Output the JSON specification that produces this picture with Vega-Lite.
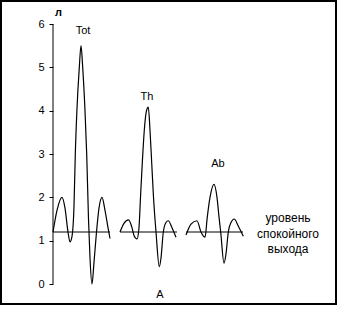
{
  "$schema": "https://vega.github.io/schema/vega-lite/v6.json",
  "width": 335,
  "height": 303,
  "autosize": "none",
  "padding": {"left": 1, "top": 1, "right": 2, "bottom": 5},
  "background": "white",
  "config": {"view": {"stroke": "black", "strokeWidth": 2}, "font": "Liberation Sans"},
  "datasets": {
    "wave": [
      {"s": "Tot", "t": 0, "v": 1.2}, {"s": "Tot", "t": 4, "v": 1.7}, {"s": "Tot", "t": 9, "v": 2.0}, {"s": "Tot", "t": 12, "v": 1.75},
      {"s": "Tot", "t": 15, "v": 1.2}, {"s": "Tot", "t": 17, "v": 0.97}, {"s": "Tot", "t": 19, "v": 1.1}, {"s": "Tot", "t": 21, "v": 1.8},
      {"s": "Tot", "t": 22.3, "v": 3.0}, {"s": "Tot", "t": 23.9, "v": 4.0}, {"s": "Tot", "t": 26.3, "v": 5.0}, {"s": "Tot", "t": 28, "v": 5.5},
      {"s": "Tot", "t": 29.7, "v": 5.0}, {"s": "Tot", "t": 32, "v": 4.0}, {"s": "Tot", "t": 33.7, "v": 3.0}, {"s": "Tot", "t": 35.5, "v": 1.5},
      {"s": "Tot", "t": 37, "v": 0.6}, {"s": "Tot", "t": 39, "v": 0.0}, {"s": "Tot", "t": 41, "v": 0.5}, {"s": "Tot", "t": 43.5, "v": 1.2},
      {"s": "Tot", "t": 46, "v": 1.75}, {"s": "Tot", "t": 49, "v": 2.0}, {"s": "Tot", "t": 52, "v": 1.7}, {"s": "Tot", "t": 55, "v": 1.3},
      {"s": "Tot", "t": 57, "v": 1.05},
      {"s": "Th", "t": 67, "v": 1.2}, {"s": "Th", "t": 71, "v": 1.4}, {"s": "Th", "t": 75.5, "v": 1.48}, {"s": "Th", "t": 79, "v": 1.3},
      {"s": "Th", "t": 81, "v": 1.12}, {"s": "Th", "t": 84, "v": 1.04}, {"s": "Th", "t": 86, "v": 1.3}, {"s": "Th", "t": 87.5, "v": 2.0},
      {"s": "Th", "t": 89.3, "v": 2.8}, {"s": "Th", "t": 91.3, "v": 3.55}, {"s": "Th", "t": 93.5, "v": 4.0}, {"s": "Th", "t": 95.3, "v": 4.08},
      {"s": "Th", "t": 97, "v": 3.55}, {"s": "Th", "t": 98.7, "v": 2.8}, {"s": "Th", "t": 100.5, "v": 2.0}, {"s": "Th", "t": 103, "v": 1.2},
      {"s": "Th", "t": 106.3, "v": 0.4}, {"s": "Th", "t": 108, "v": 0.6}, {"s": "Th", "t": 110.3, "v": 1.2}, {"s": "Th", "t": 113, "v": 1.42},
      {"s": "Th", "t": 115.3, "v": 1.46}, {"s": "Th", "t": 119, "v": 1.3}, {"s": "Th", "t": 123, "v": 1.08},
      {"s": "Ab", "t": 133, "v": 1.13}, {"s": "Ab", "t": 138, "v": 1.38}, {"s": "Ab", "t": 144, "v": 1.46}, {"s": "Ab", "t": 148, "v": 1.2},
      {"s": "Ab", "t": 152, "v": 1.08}, {"s": "Ab", "t": 154.3, "v": 1.55}, {"s": "Ab", "t": 157, "v": 2.0}, {"s": "Ab", "t": 161, "v": 2.3},
      {"s": "Ab", "t": 164, "v": 2.0}, {"s": "Ab", "t": 166, "v": 1.55}, {"s": "Ab", "t": 167.7, "v": 1.2}, {"s": "Ab", "t": 171, "v": 0.48},
      {"s": "Ab", "t": 173, "v": 0.7}, {"s": "Ab", "t": 175.3, "v": 1.2}, {"s": "Ab", "t": 178, "v": 1.42}, {"s": "Ab", "t": 181.3, "v": 1.5},
      {"s": "Ab", "t": 185, "v": 1.35}, {"s": "Ab", "t": 190.3, "v": 1.1}
    ],
    "base": [
      {"t": 0, "t2": 57, "v": 1.2},
      {"t": 67, "t2": 124, "v": 1.2},
      {"t": 133, "t2": 190, "v": 1.2}
    ],
    "axisline": [{"t": 0, "v": 0, "v2": 6}],
    "unit": [{"t": 2, "v": 6.25, "txt": "л"}],
    "labels": [
      {"t": 30, "v": 5.84, "txt": "Tot"},
      {"t": 94, "v": 4.32, "txt": "Th"},
      {"t": 165, "v": 2.77, "txt": "Ab"},
      {"t": 107, "v": -0.254, "txt": "А"}
    ],
    "note": [
      {"t": 235, "v": 1.52, "txt": "уровень"},
      {"t": 235, "v": 1.154, "txt": "спокойного"},
      {"t": 235, "v": 0.81, "txt": "выхода"}
    ]
  },
  "layer": [
    {
      "data": {"name": "axisline"},
      "mark": {"type": "rule", "color": "black", "strokeWidth": 1},
      "encoding": {
        "x": {"field": "t", "type": "quantitative", "scale": {"domain": [-52, 283], "nice": false, "zero": false}, "axis": null},
        "y": {"field": "v", "type": "quantitative", "scale": {"domain": [-0.4615, 6.531], "nice": false, "zero": false},
              "axis": {"orient": "left", "offset": -52, "values": [0, 1, 2, 3, 4, 5, 6], "domain": false, "grid": false, "tickSize": 4, "tickColor": "black", "labelPadding": 5, "labelFontSize": 11, "labelColor": "black", "labelFont": "Liberation Sans", "title": null}},
        "y2": {"field": "v2"}
      }
    },
    {
      "data": {"name": "base"},
      "mark": {"type": "rule", "color": "black", "strokeWidth": 1},
      "encoding": {
        "x": {"field": "t", "type": "quantitative"},
        "x2": {"field": "t2"},
        "y": {"field": "v", "type": "quantitative"}
      }
    },
    {
      "data": {"name": "wave"},
      "mark": {"type": "line", "color": "black", "strokeWidth": 1.2, "interpolate": "monotone"},
      "encoding": {
        "x": {"field": "t", "type": "quantitative"},
        "y": {"field": "v", "type": "quantitative"},
        "detail": {"field": "s"}
      }
    },
    {
      "data": {"name": "unit"},
      "mark": {"type": "text", "fontSize": 11, "fontWeight": "bold", "fill": "black", "baseline": "middle", "align": "left", "font": "Liberation Sans"},
      "encoding": {
        "x": {"field": "t", "type": "quantitative"},
        "y": {"field": "v", "type": "quantitative"},
        "text": {"field": "txt"}
      }
    },
    {
      "data": {"name": "labels"},
      "mark": {"type": "text", "fontSize": 11, "fill": "black", "baseline": "middle", "align": "center", "font": "Liberation Sans"},
      "encoding": {
        "x": {"field": "t", "type": "quantitative"},
        "y": {"field": "v", "type": "quantitative"},
        "text": {"field": "txt"}
      }
    },
    {
      "data": {"name": "note"},
      "mark": {"type": "text", "fontSize": 12, "fill": "black", "baseline": "middle", "align": "center", "font": "Liberation Sans"},
      "encoding": {
        "x": {"field": "t", "type": "quantitative"},
        "y": {"field": "v", "type": "quantitative"},
        "text": {"field": "txt"}
      }
    }
  ]
}
